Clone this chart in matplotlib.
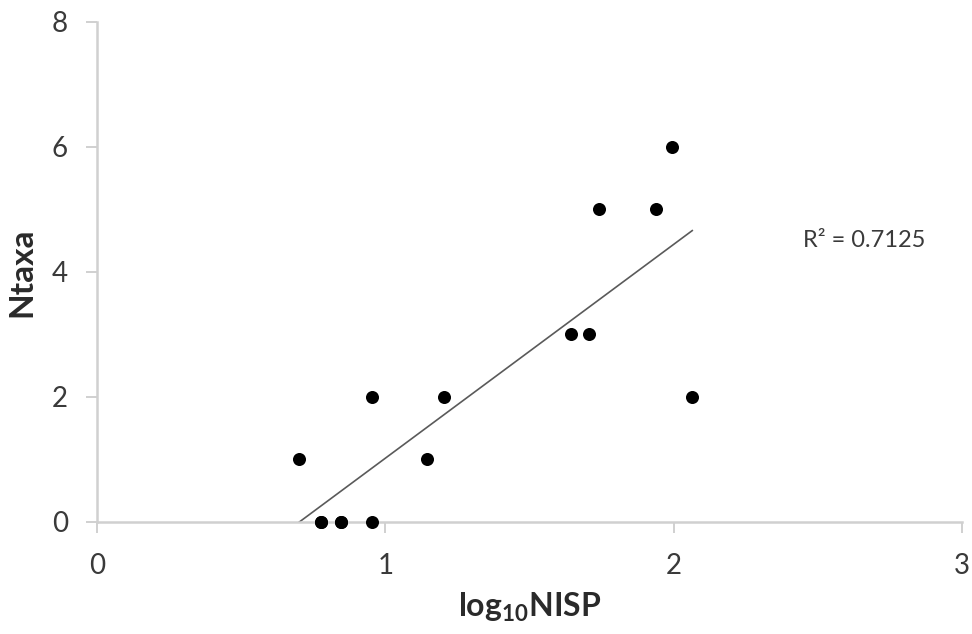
import numpy as np
import matplotlib
matplotlib.use("Agg")
import matplotlib.pyplot as plt

plt.rcParams['font.family'] = ['Lato', 'DejaVu Sans']

# Sample counts (NISP) and number of taxa per assemblage
# (some assemblages share the same position on the plot)
nisp = [5, 6, 6, 7, 7, 9, 9, 14, 16, 44, 51, 55, 87, 99, 116]
ntaxa = [1, 0, 0, 0, 0, 2, 0, 1, 2, 3, 3, 5, 5, 6, 2]
r_squared = 0.7125
x_ticks = [0, 1, 2, 3]
y_ticks = [0, 2, 4, 6, 8]

x = np.log10(nisp)
y = np.array(ntaxa, dtype=float)

# Linear least-squares trend line
slope, intercept = np.polyfit(x, y, 1)

fig = plt.figure(figsize=(9.72, 6.34), dpi=100)
ax = fig.add_axes([0.0998, 0.1767, 0.8899, 0.7886])

axis_col = '#d0d0d0'
ax.scatter(x, y, s=88, color='black', zorder=3, clip_on=False, linewidths=0)
xl = np.array([x.min(), x.max()])
ax.plot(xl, slope * xl + intercept, color='#5a5a5a', lw=1.2, zorder=2)

ax.set_xlim(0, 3)
ax.set_ylim(0, 8)
ax.set_xticks(x_ticks)
ax.set_yticks(y_ticks)

for s in ['top', 'right']:
    ax.spines[s].set_visible(False)
for s in ['left', 'bottom']:
    ax.spines[s].set_color(axis_col)
    ax.spines[s].set_linewidth(1.8)
ax.tick_params(axis='both', colors=axis_col, length=8, width=1.4,
               labelsize=20, labelcolor='#3a3a3a', direction='out')
ax.tick_params(axis='x', pad=14)
ax.tick_params(axis='y', pad=13)

ax.text(2.449, 4.51, f'R² = {r_squared}', fontsize=17, color='#3a3a3a', va='center')

ax.set_xlabel(r'log$_{\mathregular{10}}$NISP', fontsize=23, fontweight='bold',
              color='#2a2a2a', labelpad=9)
ax.set_ylabel('Ntaxa', fontsize=24, fontweight='bold', color='#2a2a2a', labelpad=11)

fig.savefig('out.png', dpi=100)
